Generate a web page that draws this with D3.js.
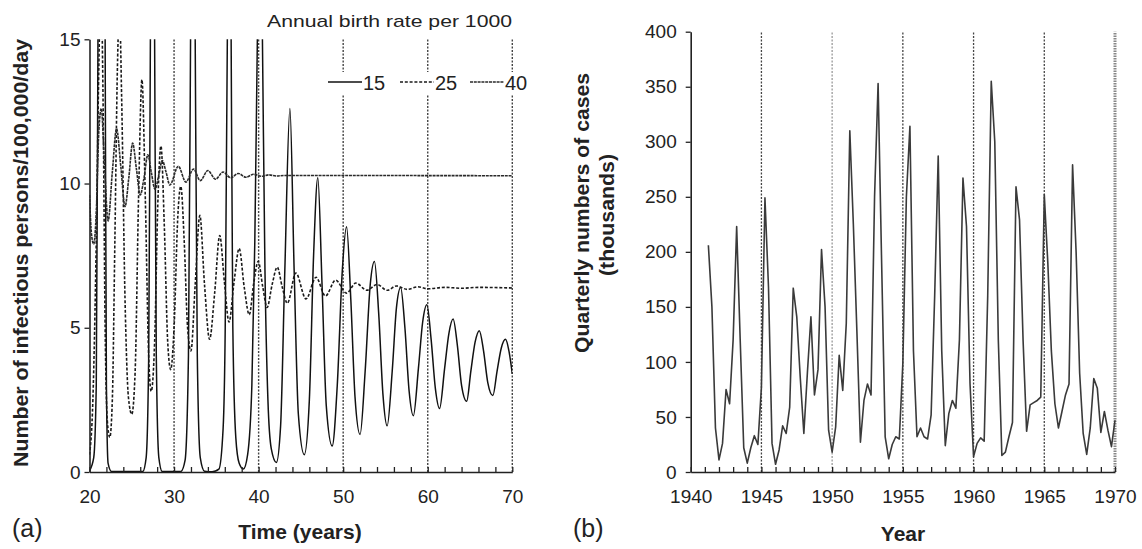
<!DOCTYPE html>
<html>
<head>
<meta charset="utf-8">
<script src="https://cdn.jsdelivr.net/npm/d3@7"></script>
<style>
  body { margin: 0; background: #fff; }
  svg { display: block; font-family: "Liberation Sans", Arial, Helvetica, sans-serif; }
</style>
</head>
<body>
<svg id="chart" width="1142" height="549"></svg>
<script>
// ---------- panel (a): model runs, [time (years), infectious per 100,000 per day] ----------
const birthRates = ['15', '25', '40'];

// birth rate 15: big epidemics early (clipped at 15), then slow damped cycles
const run15 = [
  [20.0, 0.05], [20.5, 0.5], [20.8, 3], [21.0, 15], [21.4, 35], [21.85, 15], [22.0, 3], [22.2, 0.3], [22.6, 0.02],
  [26.3, 0.02], [26.7, 0.5], [27.0, 4], [27.2, 15], [27.45, 30], [27.7, 15], [27.9, 4], [28.2, 0.5], [28.6, 0.02],
  [30.8, 0.02], [31.3, 0.4], [31.7, 4], [31.95, 15], [32.2, 30], [32.5, 15], [32.75, 4], [33.1, 0.5], [33.6, 0.03],
  [34.5, 0.01], [35.3, 0.1], [35.8, 1.5], [36.05, 5], [36.3, 15], [36.5, 28], [36.75, 15], [36.95, 5], [37.3, 1.2], [37.7, 0.3],
  [38.2, 0.1], [38.7, 0.6], [39.2, 3], [39.55, 8], [39.85, 15], [40.15, 22], [40.45, 15], [40.75, 7], [41.1, 2.5], [41.5, 0.8],
  [42.1, 0.33], [42.6, 1.6], [43.1, 7], [43.7, 12.6], [44.2, 7], [44.7, 2], [45.4, 0.6],
  [46.0, 2.5], [46.5, 7.5], [47.0, 10.2], [47.5, 6.5], [48.0, 2.3], [48.7, 0.9],
  [49.3, 3], [49.9, 7], [50.4, 8.5], [50.9, 6], [51.4, 2.6], [52.0, 1.3],
  [52.6, 3.5], [53.2, 6.5], [53.7, 7.3], [54.2, 5.5], [54.7, 2.7], [55.2, 1.6],
  [55.8, 3.5], [56.3, 5.7], [56.8, 6.4], [57.3, 5], [57.8, 2.8], [58.3, 1.95],
  [58.9, 3.6], [59.4, 5.2], [59.9, 5.8], [60.4, 4.6], [60.9, 2.9], [61.4, 2.2],
  [62.0, 3.6], [62.5, 4.8], [63.0, 5.3], [63.5, 4.4], [64.0, 3.0], [64.6, 2.45],
  [65.1, 3.5], [65.6, 4.5], [66.1, 4.9], [66.6, 4.2], [67.1, 3.1], [67.7, 2.65],
  [68.2, 3.5], [68.7, 4.3], [69.2, 4.6], [69.6, 4.2], [70.0, 3.4]
];

// birth rate 25: settles near 6.4
const run25 = [
  [20.0, 0.6], [20.4, 2.5], [20.8, 8], [21.1, 14], [21.35, 17], [21.6, 13], [21.85, 5], [22.1, 1.8], [22.4, 1.2],
  [22.7, 2.5], [23.0, 8], [23.3, 14], [23.55, 16], [23.8, 13], [24.2, 6], [24.6, 2.6], [25.0, 2.0],
  [25.4, 3.5], [25.8, 9.5], [26.2, 13.6], [26.6, 9.5], [27.0, 4], [27.3, 2.8],
  [27.7, 4.5], [28.1, 9.5], [28.45, 11.3], [28.85, 8.5], [29.25, 4.5], [29.6, 3.55],
  [30.0, 5], [30.45, 8.9], [30.8, 9.9], [31.2, 8], [31.6, 5], [32.0, 4.2],
  [32.5, 6.5], [33.05, 8.9], [33.6, 6.5], [34.2, 4.6], [34.8, 6.2], [35.4, 8.2], [35.95, 6.6], [36.5, 5.2],
  [37.1, 6.6], [37.7, 7.75], [38.3, 6.4], [38.9, 5.45], [39.4, 6.5], [39.95, 7.3], [40.5, 6.4], [41.0, 5.7],
  [41.6, 6.5], [42.2, 7.1], [42.8, 6.4], [43.4, 5.85], [44.4, 6.9], [45.6, 6.0], [46.8, 6.75], [47.9, 6.1],
  [49.1, 6.65], [50.4, 6.2], [51.5, 6.55], [52.8, 6.3], [54.0, 6.5], [55.2, 6.3], [56.3, 6.45], [57.6, 6.33],
  [58.8, 6.42], [60.0, 6.35], [62.0, 6.4], [64.0, 6.37], [66.0, 6.4], [70.0, 6.38]
];

// birth rate 40: quick damped cycles, flat at about 10.27
const run40 = [
  [20.0, 9.6], [20.25, 8.2], [20.5, 7.9], [20.8, 9.0], [21.1, 11.8], [21.4, 12.6], [21.75, 10.8], [22.2, 8.7],
  [22.7, 10.4], [23.2, 11.9], [23.7, 10.6], [24.2, 9.2], [24.65, 10.2], [25.1, 11.4], [25.55, 10.5], [26.0, 9.6],
  [26.45, 10.2], [26.9, 11.0], [27.3, 10.4], [27.75, 9.8], [28.2, 10.3], [28.6, 10.8], [29.05, 10.4], [29.5, 9.95],
  [30.5, 10.6], [31.4, 10.05], [32.3, 10.5], [33.1, 10.1], [34.0, 10.45], [34.9, 10.15], [35.8, 10.4], [36.7, 10.2],
  [37.6, 10.35], [38.5, 10.22], [39.4, 10.32], [40.3, 10.25], [41.2, 10.3], [42.1, 10.26], [43.0, 10.28], [70.0, 10.27]
];

const timeTicks = [20, 30, 40, 50, 60, 70];
const infectiousTicks = [0, 5, 10, 15];

// ---------- panel (b): quarterly numbers of cases (thousands), first point at 1941.25 ----------
const firstQuarter = 1941.25;
const quarterlyCases = [
  206, 150, 40,
  11, 26, 75, 62,
  120, 223, 120, 22,
  8, 22, 33, 25,
  77, 249, 168, 26,
  7, 20, 42, 35,
  59, 167, 141, 85,
  35, 90, 141, 70,
  93, 202, 150, 38,
  18, 41, 106, 74,
  135, 310, 225, 128,
  27, 65, 80, 70,
  250, 353, 190, 32,
  12, 25, 32, 30,
  99, 250, 314, 110,
  32, 40, 32, 30,
  52, 160, 287, 110,
  24, 53, 65, 58,
  120, 267, 223, 80,
  14, 26, 31, 28,
  160, 355, 300, 120,
  15, 18, 32, 45,
  259, 229, 120, 37,
  61, 63, 65, 68,
  252, 190, 110, 62,
  40, 55, 70, 80,
  279, 200, 90, 35,
  16, 40, 85, 76,
  36, 55, 38, 23,
  47
];
const yearTicks = [1940, 1945, 1950, 1955, 1960, 1965, 1970];
const caseTicks = [0, 50, 100, 150, 200, 250, 300, 350, 400];

let svg = d3.select('#chart');
const ink = '#222';

// small helper to style the axis groups the same way
function styleAxis(g, size) {
    g.attr('font-family', null).attr('font-size', size);
    g.select('.domain').attr('stroke', ink).attr('stroke-width', 1.6);
    g.selectAll('.tick line').attr('stroke', ink).attr('stroke-width', 1.3);
    g.selectAll('.tick text').attr('fill', ink);
}

// ================= panel (a) =================
let xA = d3.scaleLinear().domain([20, 70]).range([89.5, 512.3]);
let yA = d3.scaleLinear().domain([0, 15]).range([472, 39.3]);

// dotted verticals at each decade
svg.append('g').selectAll('line')
    .data(timeTicks.filter(d => d > 20))
    .join('line')
    .attr('x1', d => xA(d)).attr('x2', d => xA(d))
    .attr('y1', yA(0)).attr('y2', yA(15))
    .attr('stroke', '#444').attr('stroke-width', 1.4)
    .attr('stroke-dasharray', '2,1.5');

// legend sits on a white patch that breaks the verticals
svg.append('rect').attr('x', 325).attr('y', 72).attr('width', 208).attr('height', 23).attr('fill', '#fff');

svg.append('clipPath').attr('id', 'clipA')
    .append('rect')
    .attr('x', xA(20)).attr('y', yA(15))
    .attr('width', xA(70) - xA(20)).attr('height', yA(0) - yA(15));

const runStyles = {
    '15': { dash: null, width: 1.5, color: '#111' },
    '25': { dash: '3,1.8', width: 1.6, color: '#1a1a1a' },
    '40': { dash: '3,0.8', width: 1.6, color: '#2a2a2a' }
};
let runs = [run15, run25, run40];

let lineA = d3.line()
    .x(d => xA(d[0]))
    .y(d => yA(d[1]))
    .curve(d3.curveMonotoneX);

svg.append('g').attr('clip-path', 'url(#clipA)')
    .selectAll('path')
    .data(runs)
    .join('path')
    .attr('fill', 'none')
    .attr('d', d => lineA(d))
    .attr('stroke', (d, i) => runStyles[birthRates[i]].color)
    .attr('stroke-width', (d, i) => runStyles[birthRates[i]].width)
    .attr('stroke-dasharray', (d, i) => runStyles[birthRates[i]].dash)
    .attr('stroke-linejoin', 'round');

// axes
let axA_x = svg.append('g').attr('transform', `translate(0,${yA(0)})`)
    .call(d3.axisBottom(xA).tickValues(d3.range(20, 71, 2))
        .tickFormat(d => d % 10 === 0 ? d : '')
        .tickSizeInner(-5).tickSizeOuter(0).tickPadding(17.5));
styleAxis(axA_x, 19);

let axA_y = svg.append('g').attr('transform', `translate(${xA(20)},0)`)
    .call(d3.axisLeft(yA).tickValues(infectiousTicks).tickSize(5).tickSizeOuter(0).tickPadding(4));
styleAxis(axA_y, 19);

// legend
svg.append('text').attr('x', 512).attr('y', 27)
    .attr('text-anchor', 'end').attr('font-size', 17).attr('fill', ink)
    .attr('textLength', 245).attr('lengthAdjust', 'spacingAndGlyphs')
    .text('Annual birth rate per 1000');

let legendX = [328, 400, 470];
let legend = svg.append('g').selectAll('g')
    .data(birthRates)
    .join('g')
    .attr('transform', (d, i) => `translate(${legendX[i]},82)`);
legend.append('line')
    .attr('x1', 0).attr('x2', 34).attr('y1', 0).attr('y2', 0)
    .attr('stroke', d => runStyles[d].color)
    .attr('stroke-width', d => runStyles[d].width)
    .attr('stroke-dasharray', d => runStyles[d].dash);
legend.append('text')
    .attr('x', 35).attr('y', 7.5)
    .attr('font-size', 20).attr('fill', ink)
    .text(d => d);

// titles
svg.append('text')
    .attr('transform', 'translate(28,253) rotate(-90)')
    .attr('text-anchor', 'middle').attr('font-size', 20).attr('font-weight', 'bold').attr('fill', ink)
    .attr('textLength', 428).attr('lengthAdjust', 'spacingAndGlyphs')
    .text('Number of infectious persons/100,000/day');

svg.append('text').attr('x', 300).attr('y', 539)
    .attr('text-anchor', 'middle').attr('font-size', 21).attr('font-weight', 'bold').attr('fill', ink)
    .text('Time (years)');

svg.append('text').attr('x', 12).attr('y', 537)
    .attr('font-size', 25).attr('fill', ink).text('(a)');

// ================= panel (b) =================
let xB = d3.scaleLinear().domain([1940, 1970]).range([690.7, 1115]);
let yB = d3.scaleLinear().domain([0, 400]).range([472, 31.7]);

svg.append('g').selectAll('line')
    .data(yearTicks.filter(d => d > 1940))
    .join('line')
    .attr('x1', d => xB(d)).attr('x2', d => xB(d))
    .attr('y1', yB(0)).attr('y2', yB(400))
    .attr('stroke', d => d === 1970 ? '#888' : (d === 1950 ? '#999' : '#444'))
    .attr('stroke-width', d => d === 1970 ? 3 : 1.3)
    .attr('stroke-dasharray', d => d === 1970 ? '1.5,1' : '2,1.5');

let caseTimes = quarterlyCases.map((v, i) => firstQuarter + i * 0.25);

let lineB = d3.line()
    .x((d, i) => xB(caseTimes[i]))
    .y(d => yB(d));

svg.append('path')
    .datum(quarterlyCases)
    .attr('fill', 'none')
    .attr('stroke', '#3a3a3a')
    .attr('stroke-width', 1.6)
    .attr('stroke-linejoin', 'round')
    .attr('d', lineB);

let axB_x = svg.append('g').attr('transform', `translate(0,${yB(0)})`)
    .call(d3.axisBottom(xB).tickValues(d3.range(1940, 1971, 1))
        .tickFormat(d => d % 5 === 0 ? d : '')
        .tickSizeInner(-5).tickSizeOuter(0).tickPadding(17.5));
styleAxis(axB_x, 19);

let axB_y = svg.append('g').attr('transform', `translate(${xB(1940)},0)`)
    .call(d3.axisLeft(yB).tickValues(caseTicks).tickSize(5).tickSizeOuter(0).tickPadding(9));
styleAxis(axB_y, 19);

svg.append('text')
    .attr('transform', 'translate(589,213) rotate(-90)')
    .attr('text-anchor', 'middle').attr('font-size', 20).attr('font-weight', 'bold').attr('fill', ink)
    .attr('textLength', 280).attr('lengthAdjust', 'spacingAndGlyphs')
    .text('Quarterly numbers of cases');
svg.append('text')
    .attr('transform', 'translate(614,215) rotate(-90)')
    .attr('text-anchor', 'middle').attr('font-size', 20).attr('font-weight', 'bold').attr('fill', ink)
    .attr('textLength', 122).attr('lengthAdjust', 'spacingAndGlyphs')
    .text('(thousands)');

svg.append('text').attr('x', 903).attr('y', 541)
    .attr('text-anchor', 'middle').attr('font-size', 21).attr('font-weight', 'bold').attr('fill', ink)
    .text('Year');

svg.append('text').attr('x', 573).attr('y', 537)
    .attr('font-size', 25).attr('fill', ink).text('(b)');
</script>
</body>
</html>
